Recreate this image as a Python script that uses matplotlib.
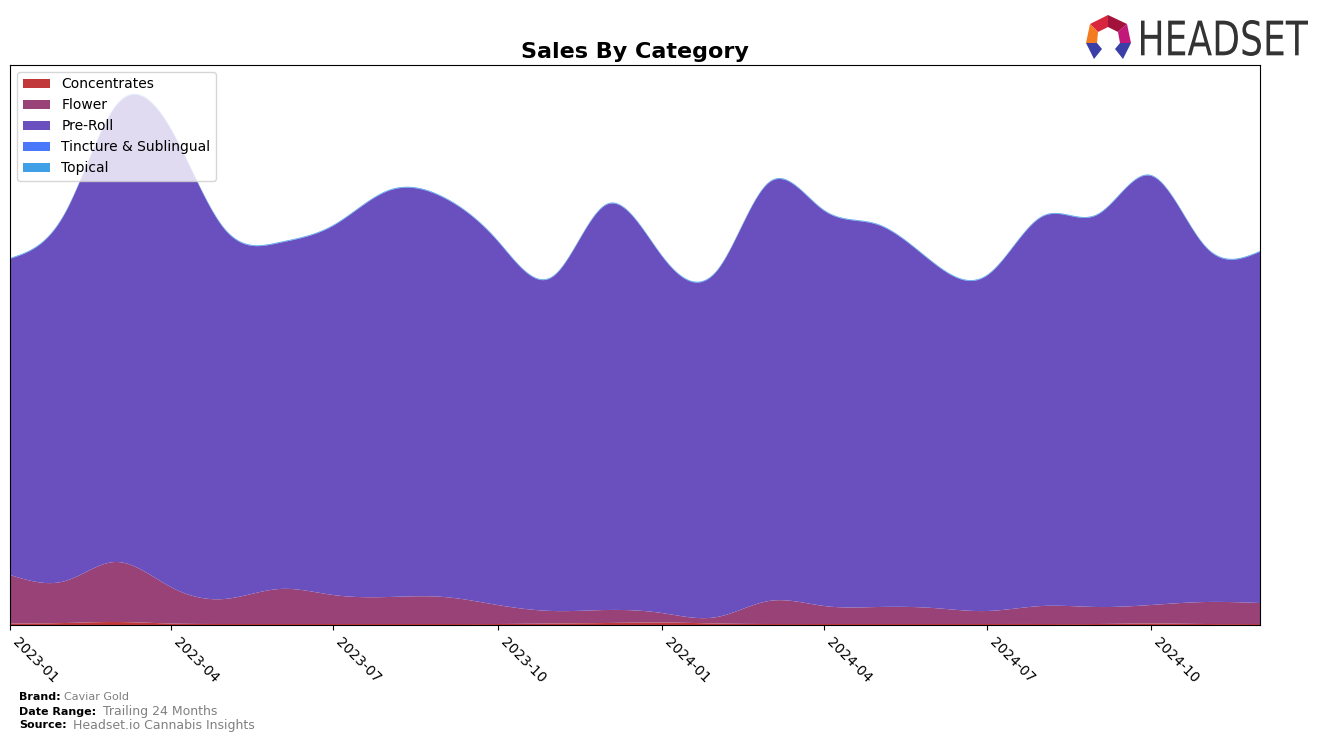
import numpy as np
import pandas as pd
import matplotlib
matplotlib.use("Agg")
import matplotlib.pyplot as plt
import matplotlib.dates as mdates
from matplotlib.patches import Polygon, PathPatch
from matplotlib.textpath import TextPath
from matplotlib.font_manager import FontProperties
from matplotlib.transforms import Affine2D

# ---------------- data (monthly, arbitrary units) ----------------
months = pd.date_range("2023-01-01", periods=24, freq="MS")
categories = ["Concentrates", "Flower", "Pre-Roll", "Tincture & Sublingual", "Topical"]

concentrates = [1.5, 2, 3, 1.5, 1, 1, 1, 1, 1, 1, 1.5, 2,
                2.5, 1.5, 1, 1, 1, 1, 1, 1, 1, 1.5, 1, 1]
flower_top = [50, 44, 63, 38, 26, 36, 30, 28, 28, 20, 14, 15,
              12, 8, 24, 19, 18, 17, 14, 19, 18, 20, 23, 22]
total_top = [367, 413, 519, 497, 397, 383, 400, 435, 428, 385, 349, 421,
             370, 355, 443, 415, 401, 363, 350, 409, 411, 450, 378, 374]
tincture = [0.3] * 24
topical = [0.6] * 24

flower = [f - c for f, c in zip(flower_top, concentrates)]
pre_roll = [t - f - a - b for t, f, a, b in zip(total_top, flower_top, tincture, topical)]

colors = ["#c2393b", "#984278", "#6a4fbe", "#4a78fb", "#3fa0e8"]


def natural_cubic(x, y, xs):
    x = np.asarray(x, float)
    y = np.asarray(y, float)
    n = len(x)
    h = np.diff(x)
    A = np.zeros((n, n))
    b = np.zeros(n)
    A[0, 0] = 1
    A[-1, -1] = 1
    for i in range(1, n - 1):
        A[i, i - 1] = h[i - 1]
        A[i, i] = 2 * (h[i - 1] + h[i])
        A[i, i + 1] = h[i]
        b[i] = 3 * ((y[i + 1] - y[i]) / h[i] - (y[i] - y[i - 1]) / h[i - 1])
    c = np.linalg.solve(A, b)
    bc = (y[1:] - y[:-1]) / h - h * (2 * c[:-1] + c[1:]) / 3
    d = (c[1:] - c[:-1]) / (3 * h)
    idx = np.clip(np.searchsorted(x, xs) - 1, 0, n - 2)
    dx = xs - x[idx]
    return y[idx] + bc[idx] * dx + c[idx] * dx ** 2 + d[idx] * dx ** 3


xnum = mdates.date2num(months.to_pydatetime())
xs = np.linspace(xnum[0], xnum[-1], 800)
series = [concentrates, flower, pre_roll, tincture, topical]
smooth = [np.clip(natural_cubic(xnum, s, xs), 0, None) for s in series]

W, H = 1324, 742
fig = plt.figure(figsize=(W / 100, H / 100), dpi=100)
ax = fig.add_axes([10 / W, 1 - 625 / H, 1250 / W, 560 / H])
ax.stackplot(xs, *smooth, labels=categories, colors=colors, linewidth=0)
ax.set_xlim(xnum[0], xnum[-1])
ax.set_ylim(0, 560)
ax.set_yticks([])
ax.xaxis.set_major_locator(mdates.MonthLocator(bymonth=[1, 4, 7, 10]))
ax.xaxis.set_major_formatter(mdates.DateFormatter("%Y-%m"))
plt.setp(ax.get_xticklabels(), rotation=-45, ha="left", fontsize=10)
ax.set_title("Sales By Category", fontsize=16, fontweight="bold", pad=5)
ax.legend(loc="upper left", fontsize=10, framealpha=0.8)

# footer
fig.text(19 / W, 1 - 697 / H, "Brand:", fontsize=8, fontweight="bold", va="center")
fig.text(64 / W, 1 - 697 / H, "Caviar Gold", fontsize=8, color="gray", va="center")
fig.text(19 / W, 1 - 712 / H, "Date Range:", fontsize=8, fontweight="bold", va="center")
fig.text(103 / W, 1 - 712 / H, "Trailing 24 Months", fontsize=9, color="gray", va="center")
fig.text(19 / W, 1 - 725 / H, "Source:", fontsize=8, fontweight="bold", va="center")
fig.text(73 / W, 1 - 725 / H, "Headset.io Cannabis Insights", fontsize=9, color="gray", va="center")

# logo word, fitted into its pixel box
tp = TextPath((0, 0), "HEADSET", size=1, prop=FontProperties(family="DejaVu Sans"))
ext = tp.get_extents()
bx0, bx1, by_top, by_bot = 1141, 1308, 20, 56
sx = (bx1 - bx0) / ext.width / W
sy = (by_bot - by_top) / ext.height / H
tr = Affine2D().translate(-ext.x0, -ext.y0).scale(sx, sy).translate(bx0 / W, 1 - by_bot / H)
fig.patches.append(PathPatch(tr.transform_path(tp), transform=fig.transFigure,
                             facecolor="#333333", edgecolor="none"))


def px(pts):
    return [(x / W, 1 - y / H) for x, y in pts]


shapes = [
    ([(1090, 24), (1108, 15), (1108, 27), (1098, 32)], "#d7263d"),
    ([(1108, 15), (1127, 24), (1118, 32), (1108, 27)], "#a3123a"),
    ([(1090, 24), (1098, 32), (1097, 43), (1086, 43)], "#f47b20"),
    ([(1127, 24), (1131, 43), (1120, 43), (1118, 32)], "#c2187a"),
    ([(1086, 43), (1097, 43), (1102, 49), (1094, 59)], "#3a3fa8"),
    ([(1131, 43), (1120, 43), (1115, 49), (1123, 59)], "#3a3fa8"),
]
for pts, col in shapes:
    fig.patches.append(Polygon(px(pts), closed=True, transform=fig.transFigure,
                               facecolor=col, edgecolor="none"))

fig.savefig("out.png", dpi=100)
